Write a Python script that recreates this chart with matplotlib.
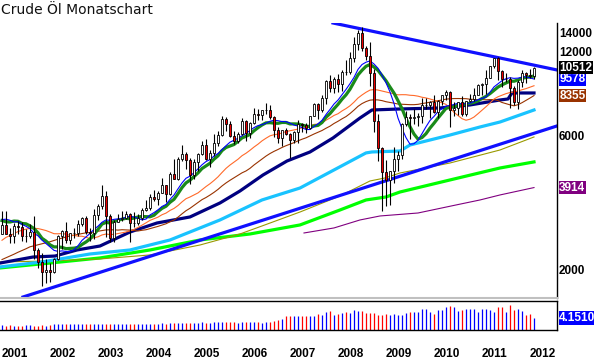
import numpy as np
import pandas as pd
import matplotlib
matplotlib.use("Agg")
import matplotlib.pyplot as plt
from matplotlib.ticker import NullLocator

# monthly crude oil candles Jan 2001 .. Feb 2012 (USD, chart shows cents)
opens = [
    26.80, 28.66, 26.73, 26.29, 28.46, 28.37, 26.25, 26.35, 27.20, 23.43, 21.18, 19.44,
    19.84, 19.48, 21.74, 26.31, 27.29, 25.31, 26.86, 27.02, 28.98, 30.45, 27.22, 26.89,
    31.20, 33.51, 36.60, 31.04, 25.80, 29.56, 30.19, 30.54, 31.57, 29.20, 29.11, 30.41,
    32.52, 33.05, 36.16, 35.76, 37.38, 39.88, 37.05, 43.80, 42.12, 49.64, 51.76, 49.13,
    43.45, 48.20, 51.75, 55.40, 49.72, 51.97, 56.50, 60.57, 68.94, 66.24, 59.76, 57.32,
    61.04, 67.92, 61.41, 66.63, 71.88, 71.29, 73.93, 74.40, 70.26, 62.91, 58.73, 62.97,
    61.05, 58.14, 61.79, 65.87, 65.71, 64.01, 70.68, 78.21, 74.04, 81.66, 94.53, 88.71,
    95.98, 91.75, 101.84, 101.58, 113.46, 127.35, 140.00, 124.08, 115.46, 100.64, 67.81, 54.43,
    44.60, 41.68, 44.76, 49.66, 51.12, 66.31, 69.89, 69.45, 69.96, 70.61, 77.00, 77.28,
    79.36, 72.89, 79.66, 83.76, 86.15, 73.97, 75.63, 78.95, 71.92, 79.97, 81.43, 84.11,
    91.38, 92.19, 96.97, 106.72, 113.93, 102.70, 95.42, 95.70, 88.81, 79.20, 93.19, 100.36,
    98.83, 98.48,
]
highs = [
    32.40, 32.20, 28.00, 29.30, 29.80, 29.50, 27.80, 29.10, 31.00, 23.80, 22.80, 21.70,
    21.00, 21.90, 26.50, 27.70, 29.36, 26.95, 27.95, 29.90, 30.80, 30.90, 28.00, 32.72,
    34.10, 39.99, 38.10, 31.50, 30.00, 31.60, 32.40, 32.40, 31.80, 31.90, 31.50, 33.20,
    35.20, 37.00, 38.35, 38.20, 42.33, 40.00, 44.50, 49.40, 50.50, 55.67, 52.30, 49.80,
    49.60, 52.10, 57.60, 58.30, 53.40, 60.95, 62.50, 70.85, 70.00, 67.70, 62.30, 61.90,
    69.20, 68.20, 67.20, 75.35, 74.80, 73.95, 78.40, 77.20, 70.40, 64.40, 62.60, 64.00,
    61.20, 62.50, 68.10, 66.90, 66.80, 70.70, 78.77, 78.30, 83.90, 94.70, 99.29, 97.00,
    100.09, 103.05, 111.80, 119.93, 135.09, 143.67, 147.27, 126.00, 130.00, 103.80, 71.50, 54.60,
    49.00, 45.00, 54.66, 53.00, 66.46, 73.38, 72.00, 75.00, 72.50, 82.00, 82.00, 80.00,
    83.95, 80.51, 83.85, 87.15, 87.00, 79.00, 79.50, 82.97, 80.00, 84.43, 88.63, 92.00,
    92.58, 103.41, 106.95, 113.93, 114.83, 102.80, 100.62, 97.00, 90.52, 94.65, 103.37, 101.70,
    103.74, 106.00,
]
lows = [
    26.60, 26.70, 24.80, 24.80, 26.60, 25.30, 24.90, 25.90, 21.80, 20.20, 17.45, 17.85,
    17.97, 19.30, 21.50, 23.50, 24.80, 24.50, 25.90, 26.30, 28.50, 26.70, 25.10, 25.70,
    30.00, 32.90, 26.10, 24.90, 25.00, 29.40, 29.60, 30.10, 25.00, 28.20, 28.80, 29.90,
    32.20, 32.50, 35.00, 33.80, 37.30, 34.80, 36.90, 41.90, 41.60, 48.90, 45.80, 40.25,
    42.10, 44.90, 51.20, 49.10, 46.20, 50.60, 55.30, 60.00, 62.30, 59.60, 56.20, 56.60,
    60.40, 57.60, 59.10, 65.90, 68.10, 68.20, 72.00, 69.10, 59.50, 56.60, 55.30, 60.30,
    49.90, 56.60, 56.50, 61.90, 61.30, 63.60, 70.40, 69.00, 73.00, 77.90, 86.00, 85.70,
    86.11, 86.50, 98.65, 100.10, 109.80, 121.50, 120.42, 112.00, 90.51, 62.00, 48.75, 32.40,
    33.55, 33.98, 40.61, 45.00, 49.40, 65.00, 58.32, 66.00, 65.05, 66.50, 75.00, 69.50,
    72.43, 69.50, 77.60, 80.50, 64.24, 70.76, 71.00, 70.76, 70.76, 79.00, 80.00, 84.00,
    84.10, 84.60, 96.50, 104.90, 94.63, 89.61, 93.50, 75.71, 77.11, 74.95, 89.85, 92.52,
    96.20, 95.50,
]
closes = [
    28.66, 26.73, 26.29, 28.46, 28.37, 26.25, 26.35, 27.20, 23.43, 21.18, 19.44, 19.84,
    19.48, 21.74, 26.31, 27.29, 25.31, 26.86, 27.02, 28.98, 30.45, 27.22, 26.89, 31.20,
    33.51, 36.60, 31.04, 25.80, 29.56, 30.19, 30.54, 31.57, 29.20, 29.11, 30.41, 32.52,
    33.05, 36.16, 35.76, 37.38, 39.88, 37.05, 43.80, 42.12, 49.64, 51.76, 49.13, 43.45,
    48.20, 51.75, 55.40, 49.72, 51.97, 56.50, 60.57, 68.94, 66.24, 59.76, 57.32, 61.04,
    67.92, 61.41, 66.63, 71.88, 71.29, 73.93, 74.40, 70.26, 62.91, 58.73, 62.97, 61.05,
    58.14, 61.79, 65.87, 65.71, 64.01, 70.68, 78.21, 74.04, 81.66, 94.53, 88.71, 95.98,
    91.75, 101.84, 101.58, 113.46, 127.35, 140.00, 124.08, 115.46, 100.64, 67.81, 54.43, 44.60,
    41.68, 44.76, 49.66, 51.12, 66.31, 69.89, 69.45, 69.96, 70.61, 77.00, 77.28, 79.36,
    72.89, 79.66, 83.76, 86.15, 73.97, 75.63, 78.95, 71.92, 79.97, 81.43, 84.11, 91.38,
    92.19, 96.97, 106.72, 113.93, 102.70, 95.42, 95.70, 88.81, 79.20, 93.19, 100.36, 98.83,
    98.48, 105.12,
]
# closes 1998-2000, only needed so the averages have history at the left edge
closes_before = [
    17.21, 15.44, 15.61, 15.39, 15.20, 14.18, 14.21, 13.39, 16.14, 14.42, 11.22, 12.05,
    12.75, 12.27, 16.76, 18.66, 16.84, 19.29, 20.53, 22.10, 24.51, 21.75, 24.59, 25.60,
    27.64, 30.43, 26.90, 25.74, 29.01, 32.50, 27.43, 33.12, 30.84, 32.70, 33.82, 26.80,
]
volume = [
    1.6, 1.4, 1.6, 1.4, 1.4, 1.5, 1.6, 1.6, 1.3, 1.5, 1.6, 1.4,
    1.8, 1.9, 1.9, 2.0, 2.1, 1.9, 1.9, 2.0, 1.9, 2.1, 1.9, 1.9,
    2.1, 1.9, 2.1, 2.0, 1.9, 2.0, 2.0, 1.9, 2.1, 1.9, 1.9, 2.0,
    2.2, 2.1, 2.2, 2.2, 2.4, 2.1, 2.4, 2.4, 2.5, 2.5, 2.4, 2.4,
    2.4, 2.4, 2.6, 2.5, 2.4, 2.6, 2.6, 2.7, 2.8, 2.7, 2.6, 2.5,
    2.7, 2.7, 2.6, 2.8, 2.7, 2.4, 2.6, 2.9, 3.0, 3.6, 3.8, 4.9,
    4.9, 4.9, 4.9, 4.7, 4.7, 4.7, 4.7, 5.4, 5.1, 6.2, 6.7, 5.1,
    5.6, 5.9, 6.2, 5.9, 7.0, 6.7, 6.7, 5.9, 5.9, 5.9, 5.1, 5.1,
    5.6, 5.3, 5.6, 5.3, 5.3, 5.9, 6.2, 6.1, 6.1, 7.4, 7.4, 6.2,
    5.6, 7.0, 7.0, 7.8, 8.4, 7.8, 6.7, 7.0, 7.2, 7.4, 7.2, 6.1,
    7.4, 7.4, 7.0, 6.1, 7.9, 7.9, 6.1, 8.7, 7.0, 7.4, 6.4, 5.3,
    5.6, 4.151,
]

# slow lines (month index, value)
navy_m = [-0.5, 7.75, 13.25, 18.75, 24.5, 32, 38.75, 47, 54.5, 59.5, 65.25, 71.25, 77,
          82.75, 89.5, 92.5, 99.5, 109.5, 117, 124.5, 126.5, 127.5, 133]
navy_v = [2101, 2208, 2226, 2340, 2418, 2714, 2923, 3072, 3448, 3806, 4342, 4873, 5249,
          5891, 6947, 7420, 7483, 7544, 7734, 8058, 8125, 8537, 8537]
cyan_m = [-0.5, 10, 22, 32, 42, 54.5, 65, 74.5, 83, 91, 92.5, 99.5, 102, 112, 119.5, 124.5, 133]
cyan_v = [2034, 2120, 2264, 2340, 2541, 2997, 3534, 3900, 4526, 5208, 5250, 5290, 5560,
          6037, 6450, 6720, 7420]
olive_m = [-0.5, 12, 24.5, 37, 49.5, 59.5, 65, 74.5, 84.5, 92, 95.75, 99.5, 112, 124.5, 133]
olive_v = [2120, 2137, 2173, 2246, 2438, 2670, 2852, 3200, 3653, 4133, 4237, 4414, 4793, 5336, 5940]
lime_m = [-0.5, 12, 24.5, 37, 49.5, 62, 74.5, 84.5, 91, 96, 99.5, 112, 124.5, 133]
lime_v = [2018, 2101, 2191, 2340, 2541, 2670, 2876, 3254, 3534, 3622, 3774, 4168, 4600, 4836]
purple_m = [75.5, 83, 89.5, 94.5, 104, 113.5, 119.5, 124.5, 133]
purple_v = [2692, 2806, 2997, 3097, 3174, 3391, 3534, 3683, 3914]

# trend lines (start / end)
upper_m = [82.75, 138.75]
upper_v = [15200, 10320]
lower_m = [5.25, 138.75]
lower_v = [1588, 6505]

years = [str(y) for y in range(2001, 2013)]
year_pos = [12 * i for i in range(len(years))]
yticks = [2000, 6000, 12000, 14000]   # 4000 / 8000 / 10000 sit under the value tags
value_tags = [  # value, text, background
    (9578, "9578", "#0000ff"),
    (10512, "10512", "#000000"),
    (8355, "8355", "#993300"),
    (3914, "3914", "#800080"),
]

o = np.array(opens) * 100
h = np.array(highs) * 100
l = np.array(lows) * 100
c = np.array(closes) * 100
m = np.arange(len(c))
allc = pd.Series(list(np.array(closes_before) * 100) + list(c))
n0 = len(closes_before)
sma = {w: allc.rolling(w).mean().values[n0:] for w in (10, 12, 24, 36)}

W, H = 594, 362
fig = plt.figure(figsize=(W / 100, H / 100), dpi=100)
ax = fig.add_axes([0, (H - 298) / H, 557 / W, (298 - 23) / H])
axv = fig.add_axes([0, (H - 330) / H, 557 / W, (330 - 301) / H], sharex=ax)

ax.set_yscale("log")
ax.set_xlim(-0.5, 138.75)
ax.set_ylim(1575, 15200)

ax.plot(lime_m, lime_v, color="#00ff00", lw=2.3, zorder=2)
ax.plot(olive_m, olive_v, color="#999900", lw=0.8, zorder=2)
ax.plot(purple_m, purple_v, color="#800080", lw=0.8, zorder=2)
ax.plot(cyan_m, cyan_v, color="#19c3ff", lw=2.3, zorder=2)
ax.plot(lower_m, lower_v, color="#1010ff", lw=2.3, zorder=2)
ax.plot(upper_m, upper_v, color="#1010ff", lw=2.3, zorder=2)
ax.plot(navy_m, navy_v, color="#000080", lw=2.3, zorder=2)
ax.plot(m, sma[36], color="#993300", lw=0.8, zorder=2)
ax.plot(m, sma[24], color="#ff6a2a", lw=0.8, zorder=2)
ax.plot(m, sma[12], color="#1a8a1a", lw=2.3, zorder=2)
ax.plot(m, sma[10], color="#0000ff", lw=0.8, zorder=2)

up = c >= o
ax.vlines(m, l, h, color="black", lw=0.8, zorder=3)
ax.bar(m, np.abs(c - o), bottom=np.minimum(o, c), width=0.7,
       color=np.where(up, "white", "#ee0000"), edgecolor="black", linewidth=0.6, zorder=4)

for side in ("left", "top"):
    ax.spines[side].set_visible(False)
ax.spines["bottom"].set_color("#c0c0c0")
ax.spines["bottom"].set_linewidth(1.5)
ax.spines["right"].set_linewidth(1.0)
ax.yaxis.tick_right()
ax.set_yticks(yticks)
ax.set_yticklabels([str(t) for t in yticks])
ax.yaxis.set_minor_locator(NullLocator())
ax.tick_params(axis="y", length=0, pad=1.5, labelsize=8.5)
ax.tick_params(axis="x", bottom=False, labelbottom=False)
for t in ax.get_yticklabels():
    t.set_fontweight("bold")
    t.set_family("Liberation Sans")

tr = ax.get_yaxis_transform()
for val, txt, bg in value_tags:
    ax.text(1.004, val, txt, transform=tr, ha="left", va="center", color="white",
            fontsize=8.5, fontweight="bold", family="Liberation Sans", clip_on=False, zorder=6,
            bbox=dict(boxstyle="square,pad=0.05", fc=bg, ec="none"))

axv.vlines(m, 0, volume, colors=np.where(up, "#0000ff", "#ff0000"), lw=0.9)
axv.set_ylim(0, 10)
axv.set_yticks([])
axv.spines["left"].set_visible(False)
for side in ("top", "bottom", "right"):
    axv.spines[side].set_linewidth(1.0)
axv.set_xticks(year_pos)
axv.set_xticklabels(years, ha="left", fontweight="bold", fontsize=8.5, family="Liberation Sans")
axv.tick_params(axis="x", length=0, pad=13)
axv.text(1.004, volume[-1], "4.1510", transform=axv.get_yaxis_transform(), ha="left",
         va="center", color="white", fontsize=8.5, fontweight="bold", family="Liberation Sans",
         clip_on=False, bbox=dict(boxstyle="square,pad=0.05", fc="#0000ff", ec="none"))

fig.text(0.002, 1 - 14 / H, "Crude Öl Monatschart", fontsize=10, va="baseline", ha="left",
         family="DejaVu Sans", color="#111111")

fig.savefig("out.png", dpi=100)
